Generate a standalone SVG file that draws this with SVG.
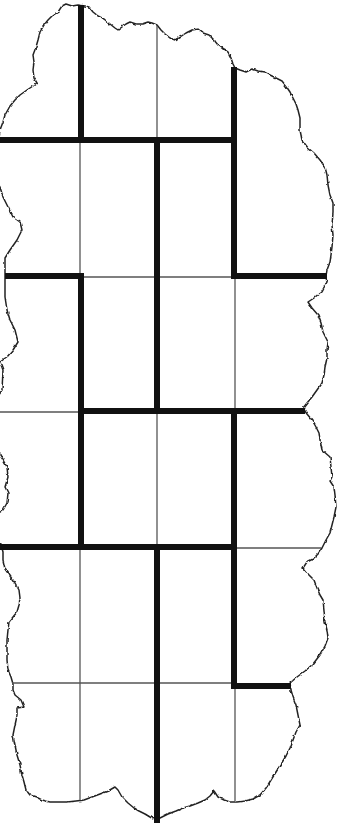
<svg xmlns="http://www.w3.org/2000/svg" width="344" height="825" viewBox="0 0 344 825">
<defs>
<filter id="rough" x="-5%" y="-5%" width="110%" height="110%">
<feTurbulence type="fractalNoise" baseFrequency="0.18" numOctaves="2" seed="3" result="n"/>
<feDisplacementMap in="SourceGraphic" in2="n" scale="3" xChannelSelector="R" yChannelSelector="G"/>
</filter>
</defs>
<style>
.outline{fill:none;stroke:#222222;stroke-width:1.5;stroke-linejoin:round}
.thin{stroke:#555555;stroke-width:1.3;fill:none}
.thick{stroke:#111111;stroke-width:6;fill:none;stroke-linecap:square}
</style>
<rect width="344" height="825" fill="#ffffff"/>
<g id="outline" filter="url(#rough)">
<path class="outline" d="M-4,160 L0,130 3,122 5,115 10,106 15,100 20,95 27,90 33,86 37,83 34,78 33,70 34,62 33,55 36,47 38,40 40,32 44,25 48,20 53,15 58,12 62,6 66,4 72,6 78,5 85,6 89,7 93,12 98,16 104,19 110,24 115,28 118,30 122,27 126,24 130,22 136,24 142,24 148,22 152,23 157,25 161,30 165,34 170,38 175,40 180,37 186,33 192,30 198,29 203,33 209,35 214,40 218,45 223,49 228,52 231,58 233,64 235,68 240,70 246,72 252,69 258,71 264,72 270,75 276,78 282,81 286,86 290,92 293,98 296,104 298,110 300,118 300,130 302,140 308,148 314,153 320,160 325,167 327,175 328,185 330,195 333,203 333,213 332,225 333,235 332,247 331,255 330,262 327,270 326,276 327,282 322,291 314,298 308,302 312,308 318,315 321,323 323,332 328,342 327,350 327,358 325,367 324,375 322,383 317,390 312,397 307,403 303,408 307,414 312,420 316,427 319,433 320,440 322,450 330,457 331,467 332,477 330,481 334,487 335,495 336,507 334,517 332,525 330,533 326,540 322,548 318,554 313,559 307,562 303,568 309,575 314,580 317,588 320,595 323,600 324,610 325,622 327,630 328,638 325,646 320,655 313,664 305,671 297,677 290,683 291,690 293,697 296,705 298,715 300,725 296,732 293,740 290,748 286,756 281,764 276,772 271,780 266,788 260,795 253,799 245,801 237,802 230,802 224,800 218,797 214,791 210,796 205,800 198,803 190,806 183,808 176,811 168,814 160,818 155,820 150,817 145,814 139,811 134,808 128,803 122,797 118,790 115,787 108,791 100,794 92,797 84,800 76,801 67,802 58,802 50,802 42,800 36,797 30,795 26,790 24,782 22,775 20,765 17,755 15,745 13,735 15,725 17,716 17,708 24,707 21,700 15,695 13,690 13,684 11,677 8,670 7,660 7,650 7,640 8,630 9,622 13,617 17,612 19,605 20,598 19,590 15,583 10,576 5,569 3,560 3,552 1,545 -4,540 -4,515 3,510 7,503 8,493 5,487 8,477 7,467 3,460 0,455 -4,440 -4,400 2,390 3,370 0,362 7,357 13,350 18,342 15,330 10,320 7,310 5,297 5,285 5,275 5,268 5,258 10,250 17,240 22,230 20,222 13,217 8,207 3,197 0,187 -4,180 Z"/>
</g>
<g id="grid-thin">
<line class="thin" x1="157" y1="26" x2="157" y2="140"/>
<line class="thin" x1="80" y1="140" x2="80" y2="276"/>
<line class="thin" x1="80" y1="277" x2="235" y2="277"/>
<line class="thin" x1="235" y1="277" x2="235" y2="411"/>
<line class="thin" x1="0" y1="412" x2="80" y2="412"/>
<line class="thin" x1="157" y1="411" x2="157" y2="547"/>
<line class="thin" x1="235" y1="548" x2="321" y2="548"/>
<line class="thin" x1="80" y1="547" x2="80" y2="800"/>
<line class="thin" x1="12" y1="683" x2="235" y2="683"/>
<line class="thin" x1="235" y1="686" x2="235" y2="802"/>
</g>
<g id="walls-thick">
<line class="thick" x1="81" y1="8" x2="81" y2="140"/>
<line class="thick" x1="-3" y1="140" x2="234" y2="140"/>
<line class="thick" x1="234" y1="70" x2="234" y2="276"/>
<line class="thick" x1="234" y1="276" x2="324" y2="276"/>
<line class="thick" x1="8" y1="276" x2="81" y2="276"/>
<line class="thick" x1="157" y1="140" x2="157" y2="411"/>
<line class="thick" x1="81" y1="276" x2="81" y2="547"/>
<line class="thick" x1="81" y1="411" x2="302" y2="411"/>
<line class="thick" x1="234" y1="411" x2="234" y2="547"/>
<line class="thick" x1="-3" y1="547" x2="234" y2="547"/>
<line class="thick" x1="157" y1="547" x2="157" y2="820"/>
<line class="thick" x1="234" y1="547" x2="234" y2="686"/>
<line class="thick" x1="234" y1="686" x2="288" y2="686"/>
</g>
</svg>
